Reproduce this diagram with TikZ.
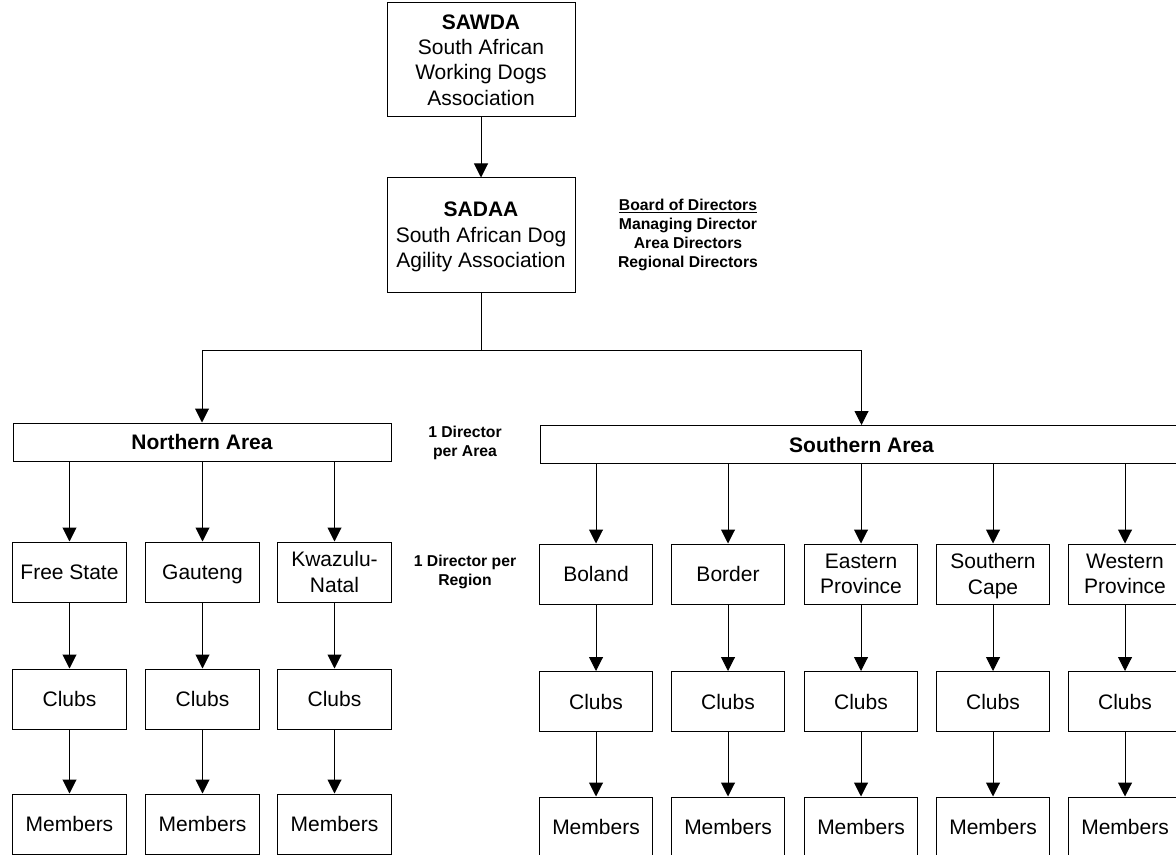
\documentclass[tikz,border=0pt]{standalone}
\usepackage{fontspec}
\setmainfont{Liberation Sans}
\usepackage{tikz}
\usetikzlibrary{arrows.meta}
\tikzset{every picture/.style={line width=0.75pt}}
\tikzset{
  orgbox/.style={draw, align=center, inner sep=0pt, text depth=0pt, font=\fontsize{15.75}{19}\selectfont},
  topbox/.style={orgbox, minimum width=141pt, minimum height=85.5pt},
  areabox/.style={orgbox, minimum height=28.5pt, font=\fontsize{15.75}{19}\selectfont\bfseries},
  regbox/.style={orgbox, minimum width=85pt, minimum height=45pt},
  note/.style={align=center, font=\fontsize{11.8}{14.2}\selectfont\bfseries},
  link/.style={-{Triangle[length=10.5pt,width=10.5pt]}},
}

\begin{document}
\begin{tikzpicture}[x=0.75pt,y=0.75pt,yscale=-1]
\useasboundingbox (0,0) rectangle (1176,855);

%Shape: Rectangle [associations]
\node[topbox] (sawda) at (481,60) {\textbf{SAWDA}\\South African\\Working Dogs\\Association};
\node[topbox] (sadaa) at (481,235) {\textbf{SADAA}\\South African Dog\\Agility Association};
\node[note] (board) at (688,235) {\underline{Board of Directors}\\Managing Director\\Area Directors\\Regional Directors};

%Shape: Rectangle [areas]
\coordinate (split) at (481,350);
\node[areabox, minimum width=283.5pt] (north) at (202,442) {Northern Area};
\node[areabox, minimum width=481pt] (south) at (861.5,444.5) {Southern Area};
\node[note] (perarea) at (465,443) {1 Director\\per Area};
\node[note] (perregion) at (465,572) {1 Director per\\Region};

%Shape: Rectangle [northern regions]
\node[regbox] (fs) at (69.5,572) {Free State};
\node[regbox] (gt) at (202.5,572) {Gauteng};
\node[regbox] (kzn) at (334.5,572) {Kwazulu-\\Natal};
\node[regbox] (fsclubs) at (69.5,699) {Clubs};
\node[regbox] (gtclubs) at (202.5,699) {Clubs};
\node[regbox] (kznclubs) at (334.5,699) {Clubs};
\node[regbox] (fsmembers) at (69.5,824) {Members};
\node[regbox] (gtmembers) at (202.5,824) {Members};
\node[regbox] (kznmembers) at (334.5,824) {Members};

%Shape: Rectangle [southern regions]
\node[regbox] (bol) at (596,574) {Boland};
\node[regbox] (bor) at (728,574) {Border};
\node[regbox] (ep) at (861,574) {Eastern\\Province};
\node[regbox] (sc) at (993,574) {Southern\\Cape};
\node[regbox] (wp) at (1125,574) {Western\\Province};
\node[regbox] (bolclubs) at (596,701.5) {Clubs};
\node[regbox] (borclubs) at (728,701.5) {Clubs};
\node[regbox] (epclubs) at (861,701.5) {Clubs};
\node[regbox] (scclubs) at (993,701.5) {Clubs};
\node[regbox] (wpclubs) at (1125,701.5) {Clubs};
\node[regbox] (bolmembers) at (596,827) {Members};
\node[regbox] (bormembers) at (728,827) {Members};
\node[regbox] (epmembers) at (861,827) {Members};
\node[regbox] (scmembers) at (993,827) {Members};
\node[regbox] (wpmembers) at (1125,827) {Members};

%Straight Lines [top]
\draw[link] (sawda) -- (sadaa);
\draw (sadaa) -- (split);
\draw[link] (split) -| (north);
\draw[link] (split) -| (south);

%Straight Lines [northern area]
\draw[link] (north.south -| fs) -- (fs);
\draw[link] (north.south -| gt) -- (gt);
\draw[link] (north.south -| kzn) -- (kzn);
\draw[link] (fs) -- (fsclubs);
\draw[link] (gt) -- (gtclubs);
\draw[link] (kzn) -- (kznclubs);
\draw[link] (fsclubs) -- (fsmembers);
\draw[link] (gtclubs) -- (gtmembers);
\draw[link] (kznclubs) -- (kznmembers);

%Straight Lines [southern area]
\draw[link] (south.south -| bol) -- (bol);
\draw[link] (south.south -| bor) -- (bor);
\draw[link] (south.south -| ep) -- (ep);
\draw[link] (south.south -| sc) -- (sc);
\draw[link] (south.south -| wp) -- (wp);
\draw[link] (bol) -- (bolclubs);
\draw[link] (bor) -- (borclubs);
\draw[link] (ep) -- (epclubs);
\draw[link] (sc) -- (scclubs);
\draw[link] (wp) -- (wpclubs);
\draw[link] (bolclubs) -- (bolmembers);
\draw[link] (borclubs) -- (bormembers);
\draw[link] (epclubs) -- (epmembers);
\draw[link] (scclubs) -- (scmembers);
\draw[link] (wpclubs) -- (wpmembers);
\end{tikzpicture}
\end{document}
